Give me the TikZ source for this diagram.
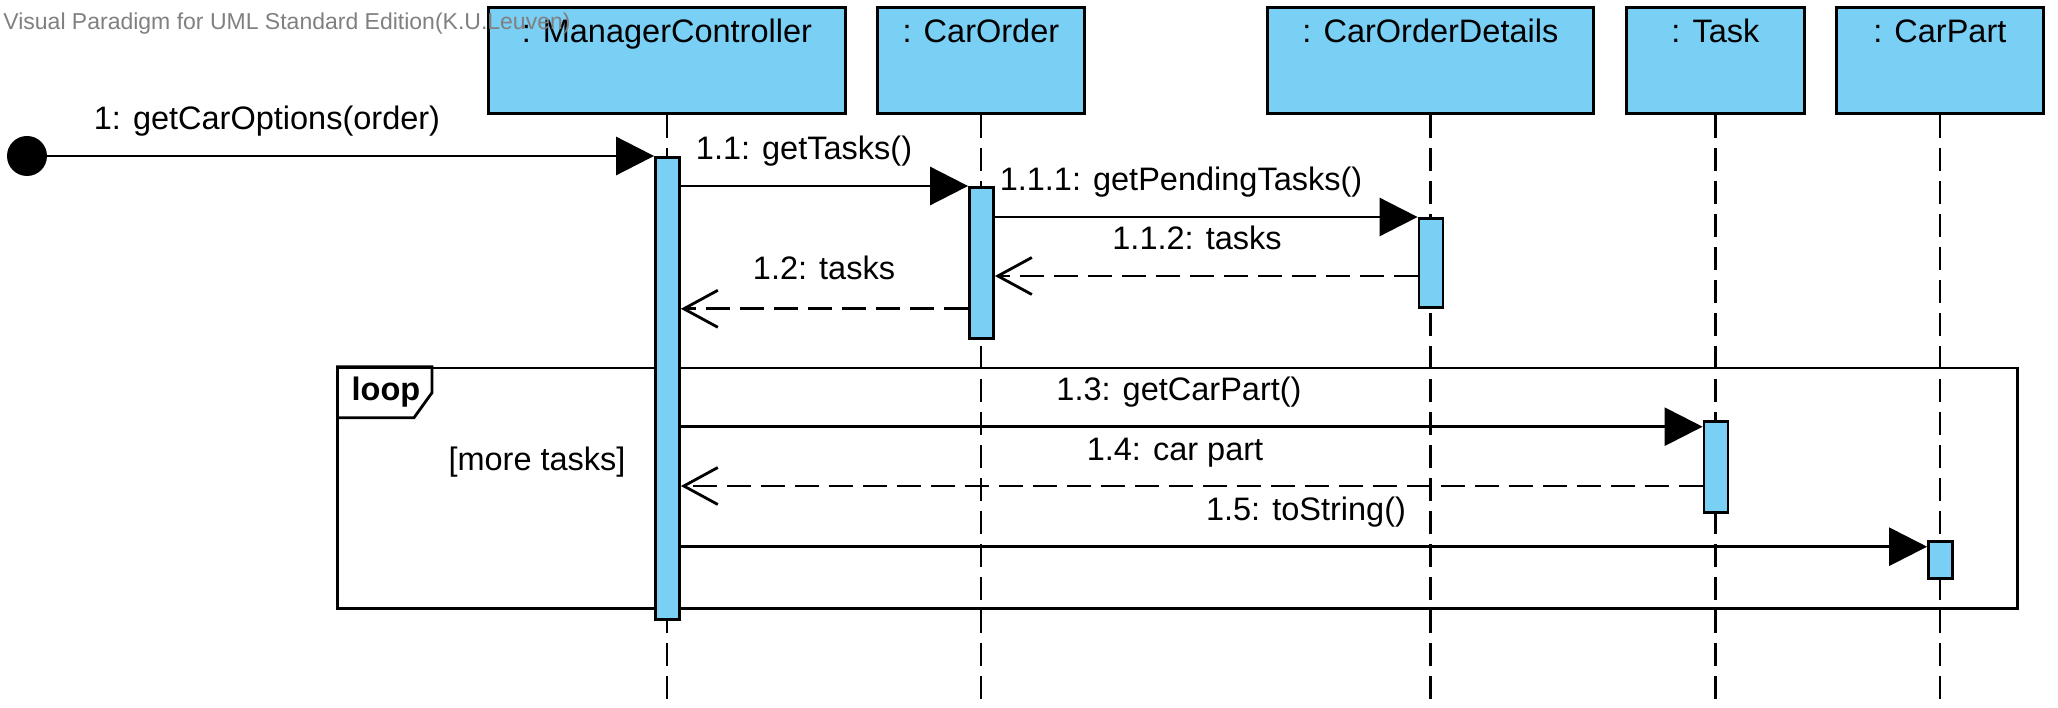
\documentclass[tikz,border=0pt]{standalone}
\usepackage{fontspec}
\setmainfont{Liberation Sans}
\usetikzlibrary{arrows.meta}
\definecolor{vpblue}{RGB}{122,207,245}
\definecolor{wmgray}{RGB}{128,128,128}
\begin{document}
\begin{tikzpicture}[x=1pt,y=-1pt, line width=2.8pt,
  obj/.style={draw, fill=vpblue, anchor=north west, inner sep=0pt, minimum height=106pt},
  objname/.style={anchor=base, inner sep=0pt, font=\fontsize{32.5}{39}\selectfont},
  act/.style={draw, fill=vpblue, anchor=north, inner sep=0pt, minimum width=24pt},
  lifeline/.style={dash pattern=on 23pt off 10pt},
  call/.style={-{Triangle[length=38pt,width=38pt]}},
  reply/.style={dash pattern=on 24pt off 10pt, -{Straight Barb[length=34pt,width=37pt]}},
  msg/.style={anchor=base, inner sep=0pt, font=\fontsize{32.5}{39}\selectfont},
]
\useasboundingbox (0,0) rectangle (2058,708);
\coordinate (bot) at (0,700);
\coordinate (y112) at (0,276);
\coordinate (y13) at (0,426.7);
\coordinate (y14) at (0,486);
\coordinate (y15) at (0,546.7);

% objects
\node[obj, minimum width=357pt] (bMC) at (487,6) {};
\node[obj, minimum width=207pt] (bCO) at (876,6) {};
\node[obj, minimum width=326pt] (bCOD) at (1266,6) {};
\node[obj, minimum width=178pt] (bTask) at (1625,6) {};
\node[obj, minimum width=207pt] (bCP) at (1835,6) {};
\node[objname] (tMC) at (bMC.north |- 0,43) {: ManagerController};
\node[objname] (tCO) at (bCO.north |- 0,43) {: CarOrder};
\node[objname] (tCOD) at (bCOD.north |- 0,43) {: CarOrderDetails};
\node[objname] (tTask) at (bTask.north |- 0,43) {: Task};
\node[objname] (tCP) at (bCP.north |- 0,43) {: CarPart};

% lifelines
\foreach \b in {bMC,bCO,bCOD,bTask,bCP}
  \draw[lifeline] (\b.south) -- (\b.south |- bot);

% loop frame
\node[draw, anchor=north west, inner sep=0pt, minimum width=1680pt, minimum height=240pt] (loopframe) at (336,366.7) {};
\draw (loopframe.north west) -- ++(96,0) -- ++(0,26) -- ++(-18,25) -- ++(-78,0);
\node[msg, font=\fontsize{32.5}{39}\selectfont\bfseries] (loopt) at (386,400) {loop};
\node[msg] (guard) at (537,470) {[more tasks]};

% activations
\node[act, minimum height=462pt] (aMC) at (667.5,156) {};
\node[act, minimum height=151pt] (aCO) at (981.5,186) {};
\node[act, minimum height=89pt] (aCOD) at (1431,217) {};
\node[act, minimum height=91pt] (aTask) at (1716,420) {};
\node[act, minimum height=37pt] (aCP) at (1940.5,540) {};

% start
\node[circle, fill=black, minimum size=40pt, inner sep=0pt] (start) at (27,156) {};

% messages
\draw[call] (start.center) -- (aMC.north west);
\draw[call] (aMC.east |- aCO.north) -- (aCO.north west);
\draw[call] (aCO.east |- aCOD.north) -- (aCOD.north west);
\draw[reply] (aCOD.west |- y112) -- (aCO.east |- y112);
\draw[reply] (aCO.west |- aCOD.south) -- (aMC.east |- aCOD.south);
\draw[call] (aMC.east |- y13) -- (aTask.west |- y13);
\draw[reply] (aTask.west |- y14) -- (aMC.east |- y14);
\draw[call] (aMC.east |- y15) -- (aCP.west |- y15);

% labels
\node[msg] (l1) at (267,130) {1: getCarOptions(order)};
\node[msg] (l11) at (804,160) {1.1: getTasks()};
\node[msg] (l111) at (1181,190.7) {1.1.1: getPendingTasks()};
\node[msg] (l112) at (1197,250) {1.1.2: tasks};
\node[msg] (l12) at (824,280) {1.2: tasks};
\node[msg] (l13) at (1179,400.7) {1.3: getCarPart()};
\node[msg] (l14) at (1175,460) {1.4: car part};
\node[msg] (l15) at (1306,520.7) {1.5: toString()};

% watermark
\node[anchor=base west, inner sep=0pt, text=wmgray, font=\fontsize{23}{28}\selectfont] (wm) at (2,29.5) {Visual Paradigm for UML Standard Edition(K.U.Leuven)};
\end{tikzpicture}
\end{document}
